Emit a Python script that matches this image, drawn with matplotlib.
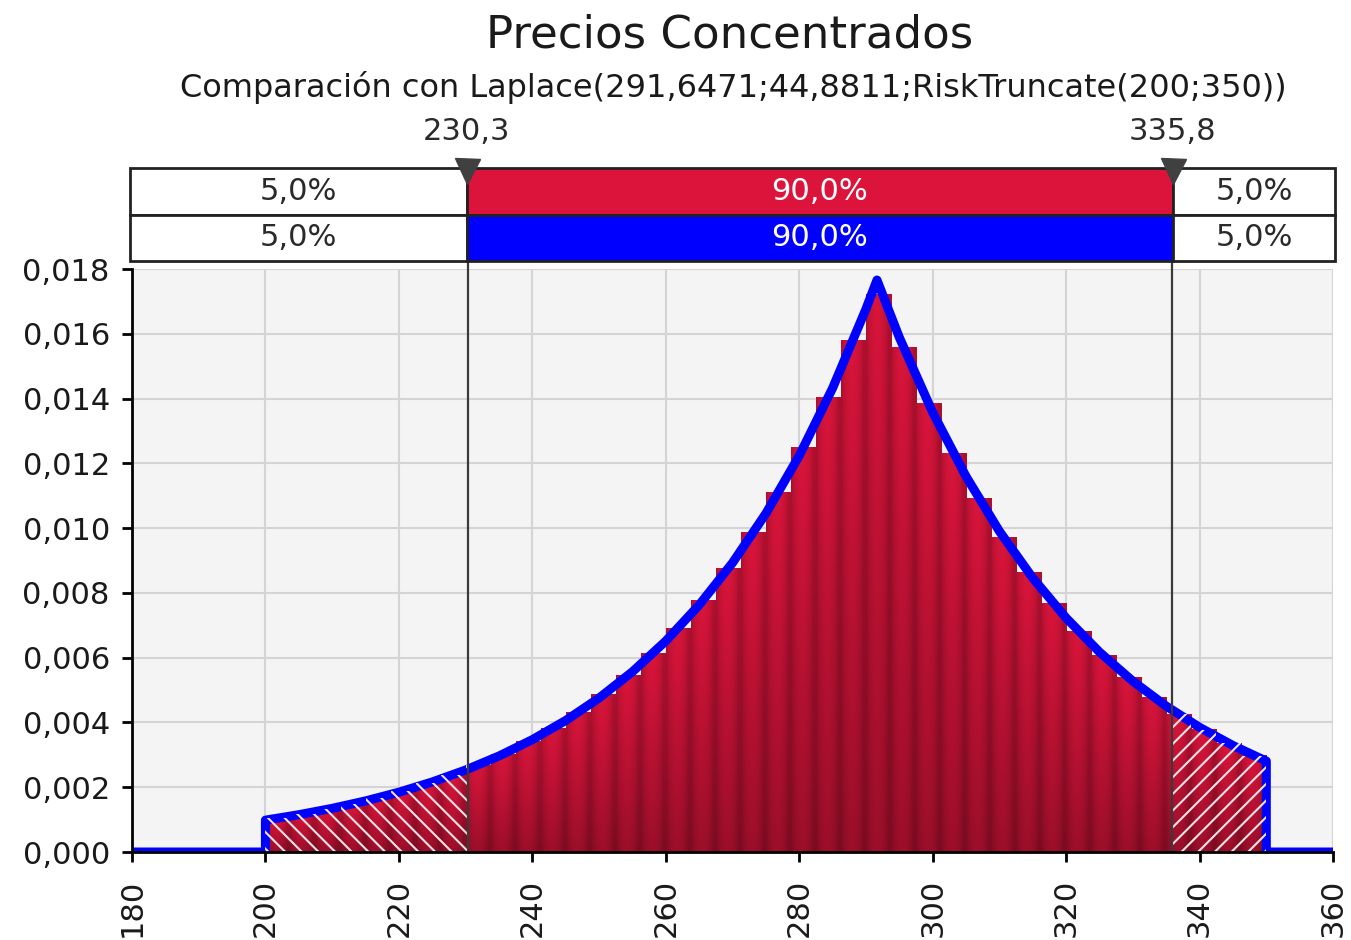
import numpy as np
import matplotlib
matplotlib.use("Agg")
import matplotlib.pyplot as plt
from matplotlib.patches import Rectangle
from matplotlib.ticker import FuncFormatter

TITLE = "Precios Concentrados"
SUBTITLE = "Comparación con Laplace(291,6471;44,8811;RiskTruncate(200;350))"

# histogram: 40 bins of width 3.75 from 200 to 350
bin_start = 200.0
bin_width = 3.75
hist_density = [
    0.001044, 0.001174, 0.001322, 0.001488, 0.001674, 0.001884, 0.002120, 0.002386,
    0.002686, 0.003022, 0.003401, 0.003828, 0.004308, 0.004849, 0.005457, 0.006141,
    0.006912, 0.007778, 0.008754, 0.009853, 0.011088, 0.012479, 0.014044, 0.015805,
    0.017200, 0.015580, 0.013844, 0.012300, 0.010929, 0.009711, 0.008629, 0.007668,
    0.006813, 0.006054, 0.005379, 0.004779, 0.004247, 0.003773, 0.003353, 0.002979,
]

# fitted Laplace curve
fit_x = [180, 200, 200, 205, 210, 215, 220, 225, 230, 235, 240, 245, 250, 255, 260,
         265, 270, 275, 280, 285, 290, 291.65, 295, 300, 305, 310, 315, 320, 325,
         330, 335, 340, 345, 350, 350, 360]
fit_y = [0, 0, 0.000984, 0.001152, 0.001348, 0.001578, 0.001847, 0.002163, 0.002532,
         0.002964, 0.003469, 0.004061, 0.004754, 0.005565, 0.006515, 0.007627,
         0.008928, 0.010452, 0.012236, 0.014323, 0.016767, 0.017660, 0.015889,
         0.013573, 0.011595, 0.009904, 0.008460, 0.007227, 0.006173, 0.005274,
         0.004505, 0.003849, 0.003287, 0.002808, 0, 0]

left_pct = 230.3
right_pct = 335.8
pct_labels = ["230,3", "335,8"]
band_labels = ["5,0%", "90,0%", "5,0%"]

CRIMSON = "#DC143C"
BLUE = "#0000FF"

plt.rcParams["font.family"] = "DejaVu Sans"
plt.rcParams["hatch.linewidth"] = 1.5

fig = plt.figure(figsize=(13.51, 9.40), dpi=100)
ax = fig.add_axes([0.0977, 0.0936, 0.889, 0.6202])
ax_top = fig.add_axes([0.0962, 0.7223, 0.8919, 0.0989])

heights = np.array(hist_density)
edges = bin_start + bin_width * np.arange(len(heights) + 1)

# bars with per-bar shading (darker edges, darker bottom)
base = np.array([0.85, 0.08, 0.23])
t = np.linspace(0, 1, 24)
profile = 0.80 + 0.20 * np.sin(np.pi * np.clip(t * 1.15, 0, 1)) ** 0.7
vert = np.linspace(1.0, 0.72, 40)[:, None]
shade = vert * profile[None, :]
img = np.clip(shade[:, :, None] * base[None, None, :], 0, 1)

for x0, h in zip(edges[:-1], heights):
    ax.imshow(img, extent=(x0, x0 + bin_width, 0, h), aspect="auto",
              interpolation="bilinear", zorder=2)

# fitted curve
ax.plot(fit_x, fit_y, color=BLUE, lw=6.5, solid_joinstyle="round", zorder=3)

# hatched tails
nl = int(np.searchsorted(edges, left_pct)) - 1
xl = list(edges[:nl + 1]) + [left_pct]
yl = list(heights[:nl + 1]) + [heights[nl]]
ax.fill_between(xl, yl, step="post", facecolor="none", edgecolor="#F2E2E5",
                hatch="\\\\", linewidth=0, zorder=4)

nr = int(np.searchsorted(edges, right_pct)) - 1
xr = [right_pct] + list(edges[nr + 1:])
yr = list(heights[nr:]) + [heights[-1]]
ax.fill_between(xr, yr, step="post", facecolor="none", edgecolor="#F2E2E5",
                hatch="//", linewidth=0, zorder=4)

# percentile lines
for p in (left_pct, right_pct):
    ax.axvline(p, ymin=0, ymax=(852 - 168) / 583, color="#3a3a3a", lw=1.6,
               zorder=5, clip_on=False)

ax.set_xlim(180, 360)
ax.set_ylim(0, 0.018)
ax.set_facecolor("#F4F4F4")
ax.set_xticks(range(180, 361, 20))
ax.set_yticks(np.arange(0, 0.0181, 0.002))
ax.yaxis.set_major_formatter(FuncFormatter(lambda v, pos: f"{v:.3f}".replace(".", ",")))
ax.grid(True, color="#D4D4D4", lw=1.5, zorder=0)
ax.set_axisbelow(True)
for s in ("top", "right"):
    ax.spines[s].set_visible(False)
for s in ("left", "bottom"):
    ax.spines[s].set_linewidth(2)
    ax.spines[s].set_zorder(6)
ax.tick_params(axis="both", length=7, width=2, color="black", labelsize=22,
               labelcolor="#1a1a1a")
ax.tick_params(axis="y", pad=9)
ax.tick_params(axis="x", pad=12, labelrotation=90)

# percentile band boxes
ax_top.set_xlim(180, 360)
ax_top.set_ylim(0, 2)
ax_top.axis("off")
bounds = [180, left_pct, right_pct, 360]
row_colors = [CRIMSON, BLUE]
for row, mid_color in enumerate(row_colors):
    y0 = 1 - row
    for i in range(3):
        fc = mid_color if i == 1 else "white"
        ax_top.add_patch(Rectangle((bounds[i], y0), bounds[i + 1] - bounds[i], 1,
                                   facecolor=fc, edgecolor="#222222", lw=2,
                                   clip_on=False))
        ax_top.text((bounds[i] + bounds[i + 1]) / 2, y0 + 0.5, band_labels[i],
                    ha="center", va="center", fontsize=22,
                    color="white" if i == 1 else "#2a2a2a")

for p, lab in zip((left_pct, right_pct), pct_labels):
    ax_top.plot([p], [1.93], marker="v", ms=18, color="#404040", clip_on=False, zorder=5)
    ax_top.annotate(lab, (p, 2), xytext=(0, 26), textcoords="offset points",
                    ha="center", va="center", fontsize=22, color="#2a2a2a",
                    annotation_clip=False)

fig.text(0.540, 1 - 35 / 940, TITLE, ha="center", va="center", fontsize=32.5,
         color="#1a1a1a")
fig.text(0.5426, 1 - 88 / 940, SUBTITLE, ha="center", va="center", fontsize=23,
         color="#1a1a1a")

fig.savefig("out.png", dpi=100)
